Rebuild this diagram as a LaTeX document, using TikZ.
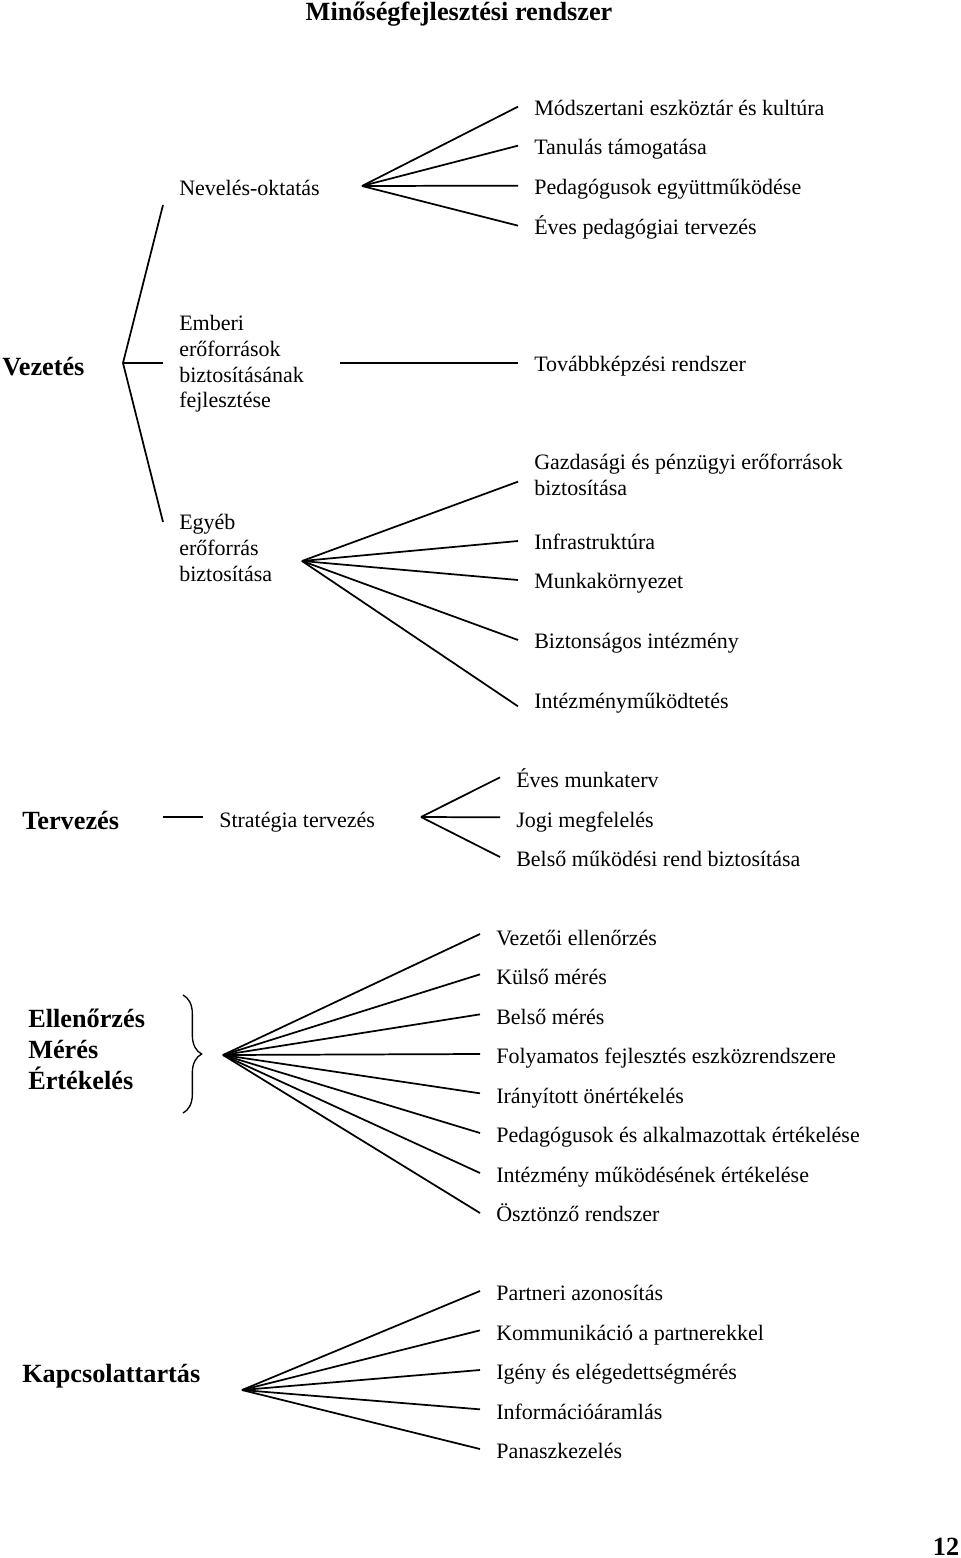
\documentclass[tikz,border=0pt]{standalone}
\usepackage{fontspec}
\setmainfont{Liberation Serif}
\usetikzlibrary{decorations.pathreplacing}

\tikzset{
  txt/.style={anchor=west, inner sep=0pt, text height=1.1em, text depth=0em, font=\fontsize{16.5}{19.3}\selectfont},
  item/.style={txt, inner xsep=12pt},
  block/.style={anchor=west, inner sep=0pt, align=left, font=\fontsize{16.5}{19.3}\selectfont},
  head/.style={anchor=west, inner sep=0pt, text height=1.1em, text depth=0em, font=\fontsize{19.7}{23}\selectfont\bfseries},
  ln/.style={line width=1.3pt},
}

\begin{document}
\begin{tikzpicture}[x=0.75pt, y=-0.75pt]
		%%%%% START %%%%%
		\useasboundingbox (0, 0) rectangle (960, 1558);
		
		\node[head, anchor=center] (title) at (459, 13) {Minőségfejlesztési rendszer};
		
		%% Vezetés
		\node[head] (vez) at (2, 368) {Vezetés};
		\coordinate (vezapex) at (123, 363);
		\coordinate (veztop) at (163, 205);
		\coordinate (vezmid) at (163, 363);
		\coordinate (vezbot) at (163, 522);
		\draw[ln] (veztop) -- (vezapex) -- (vezbot);
		\draw[ln] (vezapex) -- (vezmid);
		
		\node[txt] (nev) at (179, 188) {Nevelés-oktatás};
		\coordinate (nevfan) at (362, 186);
		\node[item] (mod) at (518, 108) {Módszertani eszköztár és kultúra};
		\node[item] (tan) at (518, 147) {Tanulás támogatása};
		\node[item] (ped) at (518, 187) {Pedagógusok együttműködése};
		\node[item] (eves) at (518, 227) {Éves pedagógiai tervezés};
		\draw[ln] (nevfan) -- ([yshift=1pt]mod.west);
		\draw[ln] (nevfan) -- ([yshift=1pt]tan.west);
		\draw[ln] (nevfan) -- ([yshift=1pt]ped.west);
		\draw[ln] (nevfan) -- ([yshift=1pt]eves.west);
		
		\node[block] (emb) at (179, 364) {Emberi\\erőforrások\\biztosításának\\fejlesztése};
		\coordinate (embend) at (340, 363);
		\node[item] (tov) at (518, 364) {Továbbképzési rendszer};
		\draw[ln] (embend) -- ([yshift=0.75pt]tov.west);
		
		\node[block] (egy) at (179, 548) {Egyéb\\erőforrás\\biztosítása};
		\coordinate (egyfan) at (302, 561);
		\node[block, inner xsep=12pt] (gaz) at (518, 475) {Gazdasági és pénzügyi erőforrások\\biztosítása};
		\node[item] (inf) at (518, 542) {Infrastruktúra};
		\node[item] (mun) at (518, 581) {Munkakörnyezet};
		\node[item] (biz) at (518, 641) {Biztonságos intézmény};
		\node[item] (imk) at (518, 701) {Intézményműködtetés};
		\draw[ln] (egyfan) -- ([yshift=-5pt]gaz.west);
		\draw[ln] (egyfan) -- ([yshift=0.75pt]inf.west);
		\draw[ln] (egyfan) -- ([yshift=0.75pt]mun.west);
		\draw[ln] (egyfan) -- ([yshift=0.75pt]biz.west);
		\draw[ln] (egyfan) -- ([yshift=-4pt]imk.west);
		
		%% Tervezés
		\node[head] (ter) at (22, 822) {Tervezés};
		\node[txt] (str) at (219, 820) {Stratégia tervezés};
		\coordinate (terend) at (163, 817);
		\coordinate (terend2) at (203, 817);
		\draw[ln] (terend) -- (terend2);
		\coordinate (strfan) at (421, 817);
		\node[item] (mt) at (500, 780) {Éves munkaterv};
		\node[item] (jogi) at (500, 820) {Jogi megfelelés};
		\node[item] (bel) at (500, 859) {Belső működési rend biztosítása};
		\draw[ln] (strfan) -- ([yshift=2pt]mt.west);
		\draw[ln] (strfan) -- ([yshift=2pt]jogi.west);
		\draw[ln] (strfan) -- ([yshift=1.5pt]bel.west);
		
		%% Ellenőrzés
		\node[head, align=left, text height=, text depth=] (ell) at (28, 1049.5) {Ellenőrzés\\Mérés\\Értékelés};
		\coordinate (brtop) at (183, 995);
		\coordinate (brbot) at (183, 1113);
		\draw[line width=1pt, decorate, decoration={brace, amplitude=14pt}] (brtop) -- (brbot);
		\coordinate (ellfan) at (223, 1055);
		\node[item] (e1) at (480, 938) {Vezetői ellenőrzés};
		\node[item] (e2) at (480, 977) {Külső mérés};
		\node[item] (e3) at (480, 1017) {Belső mérés};
		\node[item] (e4) at (480, 1056) {Folyamatos fejlesztés eszközrendszere};
		\node[item] (e5) at (480, 1096) {Irányított önértékelés};
		\node[item] (e6) at (480, 1135) {Pedagógusok és alkalmazottak értékelése};
		\node[item] (e7) at (480, 1175) {Intézmény működésének értékelése};
		\node[item] (e8) at (480, 1214) {Ösztönző rendszer};
		\draw[ln] (ellfan) -- ([yshift=3pt]e1.west);
		\draw[ln] (ellfan) -- ([yshift=2pt]e2.west);
		\draw[ln] (ellfan) -- ([yshift=2pt]e3.west);
		\draw[ln] (ellfan) -- ([yshift=1.5pt]e4.west);
		\draw[ln] (ellfan) -- ([yshift=2pt]e5.west);
		\draw[ln] (ellfan) -- ([yshift=1.5pt]e6.west);
		\draw[ln] (ellfan) -- ([yshift=1.5pt]e7.west);
		\draw[ln] (ellfan) -- ([yshift=0.75pt]e8.west);
		
		%% Kapcsolattartás
		\node[head] (kap) at (22, 1375) {Kapcsolattartás};
		\coordinate (kapfan) at (242, 1390);
		\node[item] (k1) at (480, 1293) {Partneri azonosítás};
		\node[item] (k2) at (480, 1333) {Kommunikáció a partnerekkel};
		\node[item] (k3) at (480, 1372) {Igény és elégedettségmérés};
		\node[item] (k4) at (480, 1412) {Információáramlás};
		\node[item] (k5) at (480, 1451) {Panaszkezelés};
		\draw[ln] (kapfan) -- ([yshift=1.5pt]k1.west);
		\draw[ln] (kapfan) -- ([yshift=2pt]k2.west);
		\draw[ln] (kapfan) -- ([yshift=1.5pt]k3.west);
		\draw[ln] (kapfan) -- ([yshift=2pt]k4.west);
		\draw[ln] (kapfan) -- ([yshift=1.5pt]k5.west);
		
		\node[head, anchor=center] (page) at (946, 1548) {12};
		%%%%% END %%%%%
\end{tikzpicture}
\end{document}
